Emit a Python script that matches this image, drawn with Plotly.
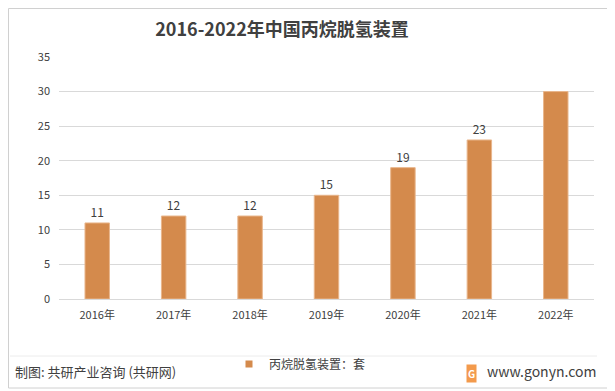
import plotly.graph_objects as go

categories = ["2016年", "2017年", "2018年", "2019年", "2020年", "2021年", "2022年"]
values = [11, 12, 12, 15, 19, 23, 30]
label_text = ["11", "12", "12", "15", "19", "23", ""]
y_ticks = [0, 5, 10, 15, 20, 25, 30, 35]
series_name = "丙烷脱氢装置：套"

FONT = "Noto Sans CJK SC, Microsoft YaHei, sans-serif"
BAR = "#D48A4C"

# the page body adds an 8px offset; compensate so positions match the 615x391 window
OFF = 8
W, H = 615 - OFF, 391 - OFF
L, T, PW, PH = 59 - OFF, 57 - OFF, 535, 242


def px(X):
    return (X - OFF - L) / PW


def py(Y):
    return 1 - (Y - OFF - T) / PH


fig = go.Figure()
fig.add_trace(go.Bar(
    x=categories, y=values, name=series_name, showlegend=False,
    marker=dict(color=BAR, line=dict(color="#E9B68C", width=1)),
    width=0.32,
    text=label_text, textposition="outside", cliponaxis=False,
    textfont=dict(size=12, color="#404040", family=FONT),
))
# legend entry (small square swatch like the reference)
fig.add_trace(go.Scatter(
    x=[None], y=[None], mode="markers", name=series_name, showlegend=True,
    marker=dict(symbol="square", size=7, color=BAR),
))

fig.update_layout(
    width=W, height=H,
    margin=dict(l=L, r=W - L - PW, t=T, b=H - T - PH, autoexpand=False),
    paper_bgcolor="white", plot_bgcolor="white",
    font=dict(family=FONT, color="#404040"),
    title=dict(text="<b>2016-2022年中国丙烷脱氢装置</b>", x=(282 - OFF) / W, xanchor="center",
               y=1 - (30 - OFF) / H, yanchor="middle", font=dict(size=18, color="#404040", family=FONT)),
    showlegend=True,
    legend=dict(orientation="h", x=px(229), xanchor="left", y=py(364), yanchor="middle",
                font=dict(size=12, color="#404040", family=FONT), bgcolor="rgba(0,0,0,0)",
                itemwidth=30),
    bargap=0.68,
)
fig.update_yaxes(range=[0, 35], tickvals=y_ticks, showgrid=True, gridcolor="#D9D9D9",
                 gridwidth=1, zeroline=False, showline=False, ticks="",
                 tickfont=dict(size=11, color="#404040"), ticklabelstandoff=8)
fig.update_xaxes(showline=True, linecolor="#D9D9D9", linewidth=1, ticks="",
                 tickfont=dict(size=11, color="#404040"), ticklabelstandoff=6)

# border around the picture
fig.add_shape(type="rect", xref="paper", yref="paper",
              x0=px(OFF + 0.5), x1=px(611), y0=py(388), y1=py(OFF + 0.5),
              line=dict(color="#D0D0D0", width=1))
# separator line above the footer
fig.add_shape(type="line", xref="paper", yref="paper",
              x0=px(10), x1=px(597), y0=py(356), y1=py(356),
              line=dict(color="#ECECEC", width=1))

fig.add_annotation(text="制图: 共研产业咨询 (共研网)", xref="paper", yref="paper",
                   x=px(13), xanchor="left", y=py(371), yanchor="middle", showarrow=False,
                   font=dict(size=13, color="#404040", family=FONT))
fig.add_annotation(text="www.gonyn.com", xref="paper", yref="paper",
                   x=px(598), xanchor="right", y=py(371), yanchor="middle", showarrow=False,
                   font=dict(size=14, color="#404040", family=FONT))
fig.add_annotation(text="<b>G</b>", xref="paper", yref="paper",
                   x=px(471), xanchor="center", y=py(373), yanchor="middle", showarrow=False,
                   bgcolor="#F39A4C", borderpad=1,
                   font=dict(size=10, color="white", family=FONT))

fig.write_html("out.html")
